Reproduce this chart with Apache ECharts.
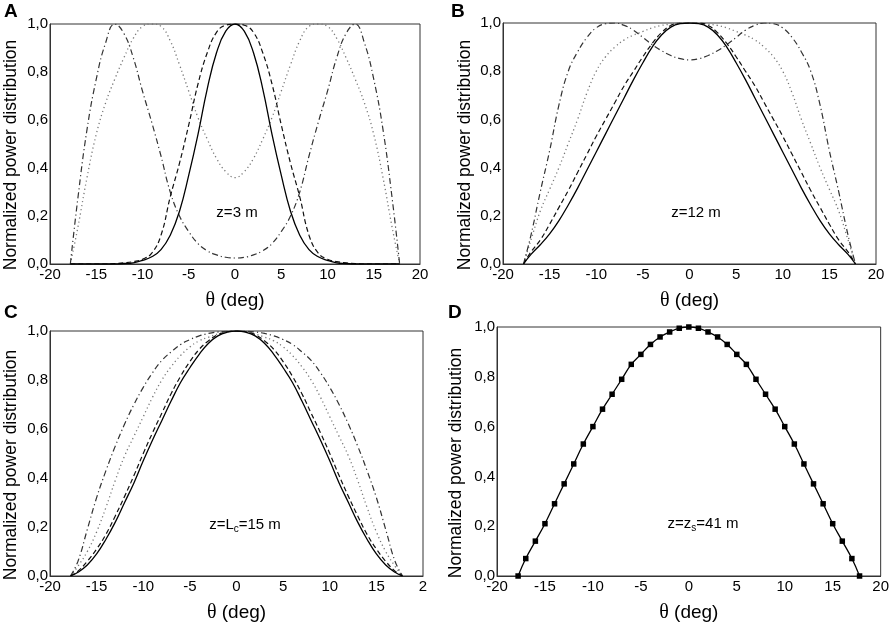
<!DOCTYPE html>
<html>
<head>
<meta charset="utf-8">
<script src="https://cdn.jsdelivr.net/npm/echarts@6/dist/echarts.min.js"></script>
<style>
  html, body { margin: 0; padding: 0; background: #fff; }
  #chart { width: 892px; height: 624px; }
</style>
</head>
<body>
<div id="chart"></div>
<script>
  // angle samples (deg), shared by all panels
  const theta = [-17.8, -17, -16, -15, -14, -13, -12, -11, -10, -9, -8, -7, -6, -5, -4, -3, -2, -1, 0,
    1, 2, 3, 4, 5, 6, 7, 8, 9, 10, 11, 12, 13, 14, 15, 16, 17, 17.8];

  const xTicks = [-20, -15, -10, -5, 0, 5, 10, 15, 20];
  const yTicks = [0, 0.2, 0.4, 0.6, 0.8, 1.0];

  // panel A, z = 3 m
  const aSolid = [0, 0, 0, 0, 0, 0, 0.002, 0.005, 0.015, 0.03, 0.06, 0.12, 0.22, 0.37, 0.54, 0.73, 0.88, 0.97, 1.0,
    0.97, 0.88, 0.73, 0.54, 0.37, 0.22, 0.12, 0.06, 0.03, 0.015, 0.005, 0.002, 0, 0, 0, 0, 0, 0];
  const aDashed = [0, 0, 0, 0, 0, 0.002, 0.005, 0.01, 0.02, 0.045, 0.12, 0.28, 0.42, 0.58, 0.75, 0.88, 0.965, 0.995, 1.0,
    0.995, 0.965, 0.88, 0.75, 0.58, 0.42, 0.28, 0.12, 0.045, 0.02, 0.01, 0.005, 0.002, 0, 0, 0, 0, 0];
  const aDotted = [0, 0.15, 0.36, 0.54, 0.67, 0.77, 0.86, 0.94, 0.99, 1.0, 0.99, 0.93, 0.83, 0.72, 0.61, 0.52, 0.44, 0.385, 0.36,
    0.385, 0.44, 0.52, 0.61, 0.72, 0.83, 0.93, 0.99, 1.0, 0.99, 0.94, 0.86, 0.77, 0.67, 0.54, 0.36, 0.15, 0];
  const aDashDot = [0, 0.27, 0.56, 0.77, 0.92, 1.0, 0.96, 0.86, 0.72, 0.59, 0.45, 0.3, 0.2, 0.135, 0.085, 0.055, 0.038, 0.028, 0.025,
    0.028, 0.038, 0.055, 0.085, 0.135, 0.2, 0.3, 0.45, 0.59, 0.72, 0.86, 0.96, 1.0, 0.92, 0.77, 0.56, 0.27, 0];

  // panel B, z = 12 m
  const bSolid = [0, 0.04, 0.08, 0.125, 0.18, 0.245, 0.315, 0.39, 0.465, 0.54, 0.615, 0.69, 0.765, 0.835, 0.9, 0.95, 0.983, 0.997, 1.0,
    0.997, 0.983, 0.95, 0.9, 0.835, 0.765, 0.69, 0.615, 0.54, 0.465, 0.39, 0.315, 0.245, 0.18, 0.125, 0.08, 0.04, 0];
  const bDashed = [0, 0.05, 0.1, 0.165, 0.235, 0.305, 0.38, 0.455, 0.53, 0.6, 0.67, 0.74, 0.8, 0.86, 0.915, 0.96, 0.99, 1.0, 1.0,
    1.0, 0.99, 0.96, 0.915, 0.86, 0.8, 0.74, 0.67, 0.6, 0.53, 0.455, 0.38, 0.305, 0.235, 0.165, 0.1, 0.05, 0];
  const bDotted = [0, 0.1, 0.22, 0.31, 0.4, 0.5, 0.6, 0.71, 0.8, 0.86, 0.9, 0.93, 0.95, 0.965, 0.98, 0.99, 0.995, 1.0, 1.0,
    1.0, 0.995, 0.99, 0.98, 0.965, 0.95, 0.93, 0.9, 0.86, 0.8, 0.71, 0.6, 0.5, 0.4, 0.31, 0.22, 0.1, 0];
  const bDashDot = [0, 0.12, 0.3, 0.47, 0.66, 0.8, 0.88, 0.94, 0.98, 0.997, 1.0, 0.99, 0.97, 0.94, 0.91, 0.885, 0.865, 0.852, 0.847,
    0.852, 0.865, 0.885, 0.91, 0.94, 0.97, 0.99, 1.0, 0.997, 0.98, 0.94, 0.88, 0.8, 0.66, 0.47, 0.3, 0.12, 0];

  // panel C, z = Lc = 15 m
  const cSolid = [0, 0.015, 0.045, 0.09, 0.15, 0.22, 0.3, 0.38, 0.47, 0.555, 0.635, 0.715, 0.79, 0.85, 0.905, 0.95, 0.98, 0.995, 1.0,
    0.995, 0.98, 0.95, 0.905, 0.85, 0.79, 0.715, 0.635, 0.555, 0.47, 0.38, 0.3, 0.22, 0.15, 0.09, 0.045, 0.015, 0];
  const cDashed = [0, 0.02, 0.06, 0.11, 0.17, 0.245, 0.325, 0.41, 0.5, 0.585, 0.665, 0.745, 0.815, 0.875, 0.925, 0.96, 0.985, 0.997, 1.0,
    0.997, 0.985, 0.96, 0.925, 0.875, 0.815, 0.745, 0.665, 0.585, 0.5, 0.41, 0.325, 0.245, 0.17, 0.11, 0.06, 0.02, 0];
  const cDotted = [0, 0.04, 0.1, 0.18, 0.28, 0.39, 0.49, 0.57, 0.65, 0.73, 0.8, 0.855, 0.9, 0.935, 0.96, 0.975, 0.988, 0.997, 1.0,
    0.997, 0.988, 0.975, 0.96, 0.935, 0.9, 0.855, 0.8, 0.73, 0.65, 0.57, 0.49, 0.39, 0.28, 0.18, 0.1, 0.04, 0];
  const cDashDot = [0, 0.06, 0.19, 0.32, 0.43, 0.53, 0.62, 0.7, 0.77, 0.83, 0.88, 0.915, 0.945, 0.965, 0.98, 0.99, 0.996, 0.999, 1.0,
    0.999, 0.996, 0.99, 0.98, 0.965, 0.945, 0.915, 0.88, 0.83, 0.77, 0.7, 0.62, 0.53, 0.43, 0.32, 0.19, 0.06, 0];

  // panel D, z = zs = 41 m
  const dSolid = [0, 0.07, 0.14, 0.21, 0.29, 0.37, 0.45, 0.53, 0.6, 0.67, 0.73, 0.79, 0.85, 0.89, 0.93, 0.96, 0.98, 0.995, 1.0,
    0.995, 0.98, 0.96, 0.93, 0.89, 0.85, 0.79, 0.73, 0.67, 0.6, 0.53, 0.45, 0.37, 0.29, 0.21, 0.14, 0.07, 0];

  const panelLetters = ['A', 'B', 'C', 'D'];
  const labels = ['z=3 m', 'z=12 m', 'z=L{s|c}=15 m', 'z=z{s|s}=41 m'];
  const yTitle = 'Normalized power distribution';

  const font = 'Liberation Sans, Arial, sans-serif';
  const axisColor = '#333';

  const styles = {
    solid:   { color: '#000', width: 1.3, type: 'solid' },
    dashed:  { color: '#111', width: 1.2, type: [5, 3] },
    dotted:  { color: '#777', width: 1.3, type: [1.2, 3] },
    dashdot: { color: '#333', width: 1.2, type: [6, 3, 1.2, 3] }
  };

  const grids = [
    { left: 50,  top: 24,  width: 370, height: 240 },
    { left: 503, top: 23,  width: 373, height: 241 },
    { left: 50,  top: 331, width: 373, height: 245 },
    { left: 497, top: 327, width: 385, height: 249 }
  ];

  // text positions: panel letter, y title centre, z annotation
  const letterPos = [[4, 12], [451, 12], [4, 313], [448, 313]];
  const yTitlePos = [[11, 155], [465, 155], [11, 465], [456, 463]];
  const notePos = [[237, 213], [696, 213], [245, 525], [703, 524]];

  function pts(vals) {
    return theta.map((t, i) => [t, vals[i]]);
  }

  function line(idx, vals, style, extra) {
    return Object.assign({
      type: 'line',
      xAxisIndex: idx,
      yAxisIndex: idx,
      data: pts(vals),
      smooth: 0.45,
      symbol: 'none',
      lineStyle: styles[style],
      silent: true,
      z: style === 'solid' ? 5 : 3
    }, extra || {});
  }

  const chart = echarts.init(document.getElementById('chart'));

  const option = {
    backgroundColor: '#fff',
    animation: false,
    grid: grids.map(g => Object.assign({
      show: true,
      borderColor: axisColor,
      borderWidth: 1,
      backgroundColor: 'transparent'
    }, g)),
    xAxis: grids.map((g, i) => ({
      type: 'value',
      gridIndex: i,
      min: xTicks[0],
      max: xTicks[xTicks.length - 1],
      interval: 5,
      name: '{t|θ} (deg)',
      nameLocation: 'middle',
      nameGap: 27,
      nameTextStyle: {
        color: '#000', fontFamily: font, fontSize: 19,
        rich: { t: { fontFamily: 'Liberation Serif, serif', fontSize: 20, color: '#000' } }
      },
      axisLine: { show: true, onZero: false, lineStyle: { color: axisColor, width: 1 } },
      axisTick: { show: false },
      splitLine: { show: false },
      axisLabel: {
        color: '#000', fontFamily: font, fontSize: 15, margin: 3,
        // panel C's last label is cut to "2" in the original
        formatter: v => (i === 2 && v === 20) ? '2' : String(v)
      }
    })),
    yAxis: grids.map((g, i) => ({
      type: 'value',
      gridIndex: i,
      min: yTicks[0],
      max: yTicks[yTicks.length - 1],
      interval: 0.2,
      axisLine: { show: true, onZero: false, lineStyle: { color: axisColor, width: 1 } },
      axisTick: { show: false },
      splitLine: { show: false },
      axisLabel: {
        color: '#000', fontFamily: font, fontSize: 15, margin: 2,
        formatter: v => v.toFixed(1).replace('.', ',')
      }
    })),
    series: [
      line(0, aDotted, 'dotted'),
      line(0, aDashDot, 'dashdot'),
      line(0, aDashed, 'dashed'),
      line(0, aSolid, 'solid'),
      line(1, bDotted, 'dotted'),
      line(1, bDashDot, 'dashdot'),
      line(1, bDashed, 'dashed'),
      line(1, bSolid, 'solid'),
      line(2, cDotted, 'dotted'),
      line(2, cDashDot, 'dashdot'),
      line(2, cDashed, 'dashed'),
      line(2, cSolid, 'solid'),
      line(3, dSolid, 'solid', {
        symbol: 'rect',
        symbolSize: 5.5,
        showAllSymbol: true,
        itemStyle: { color: '#000' }
      })
    ],
    graphic: [].concat(
      letterPos.map((p, i) => ({
        type: 'text', x: p[0], y: p[1],
        style: { text: panelLetters[i], font: 'bold 19px ' + font, fill: '#000', verticalAlign: 'middle' }
      })),
      yTitlePos.map(p => ({
        type: 'text', x: p[0], y: p[1], rotation: Math.PI / 2,
        style: { text: yTitle, font: '17.5px ' + font, fill: '#000', align: 'center', verticalAlign: 'middle' }
      })),
      notePos.map((p, i) => ({
        type: 'text', x: p[0], y: p[1],
        style: {
          text: labels[i],
          font: '15px ' + font,
          fill: '#000',
          align: 'center',
          verticalAlign: 'middle',
          rich: {
            s: { fontSize: 10, fontFamily: font, fill: '#000', verticalAlign: 'bottom', padding: [9, 0, 0, 0] }
          }
        }
      }))
    )
  };

  chart.setOption(option);
  window.addEventListener('resize', () => { chart.resize(); });
</script>
</body>
</html>
